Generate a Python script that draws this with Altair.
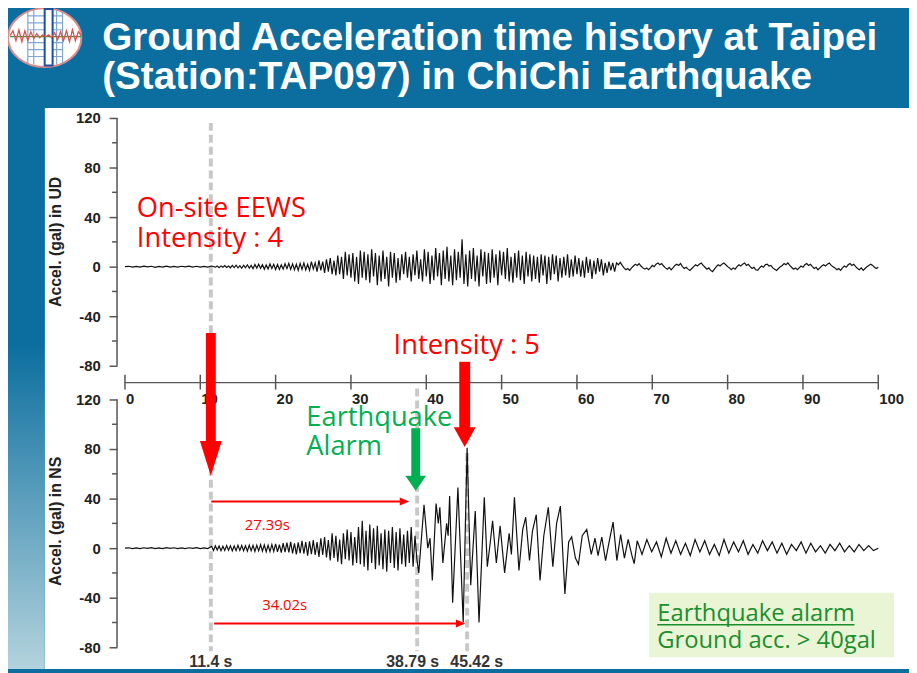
import altair as alt
import pandas as pd

# ===================== DATA =====================
# UD (vertical) record, gal, on piecewise-regular time grids (start s, step s)
UD_GRIDS = [(0.0, 0.5), (12.25, 0.25), (24.25, 0.25), (65.25, 0.25)]
UD_QUIET = [0, 0.3, -0.4, 0.2, -0.3, 0.4, -0.2, 0.3, -0.5, 0.2, -0.3, 0.4, -0.3,
            0.2, -0.4, 0.3, -0.2, 0.4, -0.3, 0.3, -0.4, 0.2, -0.3, 0.5, -0.4]
UD_ONSET = [0.5, -0.8, 0.6, -0.5, 0.9, -0.7, 0.5, -0.9,
            1, -0.8, 1.2, -1, 0.8, -1.3, 1.1, -0.9,
            1.5, -1.2, 1, -1.6, 1.8, -1.2, 2, -1.4,
            1.6, -2, 1.4, -1.8, 2.2, -1.5, 1.9, -2.3,
            1.8, -2.2, 1.5, -2, 2.4, -1.6, 2.6, -2.2,
            2.2, -2.6, 2, -3, 2.6, -2.3, 3, -2.7]
UD_STRONG = [2, -3, 4, -2, 3, -4, 5, -3,
             4, -5, 6, -4, 7, -6, 5, -7,
             9, -6, 8, -10, 12, -7, 10, -9,
             11, -12, 8, -14, 13, -9, 12, -11,
             10, -13, 14, -8, 11, -15, 9, -12,
             13, -10, 8, -16, 12, -9, 11, -13,
             7, -11, 10, -6, 12, -9, 8, -12,
             10, -7, 13, -10, 6, -12, 14, -8,
             12, -14, 9, -11, 15, -8, 11, -15,
             13, -10, 16, -12, 9, -15, 14, -11,
             12, -9, 22, -14, 10, -16, 13, -10,
             15, -12, 9, -16, 14, -8, 12, -14,
             11, -13, 14, -9, 10, -15, 13, -7,
             12, -10, 15, -12, 8, -13, 11, -9,
             13, -11, 9, -14, 12, -8, 10, -12,
             9, -10, 8, -13, 10, -7, 9, -14,
             8, -11, 10, -6, 9, -12, 7, -9,
             8, -7, 10, -9, 6, -8, 9, -6,
             7, -8, 5, -9, 8, -5, 6, -10,
             5, -6, 7, -4, 6, -7, 3, -5,
             4, -3, 3, -4]
UD_CODA = [3, 1.5, 3.5, 1, -1, -2.5, -1.5, -3,
           -1, 0.5, 2, 1, 2.5, 0.5, -1, -2,
           -1, -2.5, -1, 1, 0, 2, 3, 1.5,
           2.5, 0.5, -1, -2, -0.5, -2.5, -1, 1,
           2, 1, 2.5, 0, -1.5, -0.5, -2, -3,
           -1.5, 0, 1.5, 0.5, 2, 3, 1, -0.5,
           -2, -1, -3, -4, -2, 0, 1.5, 0.5,
           2, 3, 1.5, 0, -1, -2.5, -1, -2,
           0, 1.5, 0.5, 2, 3, 1, 2, 0,
           -1.5, -0.5, -2.5, -3, -1, 0.5, -0.5, 1.5,
           2, 0.5, 1, -1, -2, -3, -1.5, 0,
           1, 2.5, 1.5, 3, 1, -0.5, -2, -1,
           -2.5, -1, 0.5, -0.5, 1.5, 2.5, 1, 2,
           0, -1.5, -0.5, -2.5, -1, 0.5, 1.5, 0.5,
           2, 3, 1, 0, -1, -2.5, -1.5, -3,
           -1, 0.5, -0.5, 1.5, 2.5, 1, 2, 0,
           -1.5, -2.5, -1, -3, -1.5, 0, 1, 2,
           1, -0.5, -1.5, -0.5]

# NS record, gal
NS_GRIDS = [(0.0, 0.5), (11.5, 0.25), (68.0, 0.64)]
NS_QUIET = [0, 0.3, -0.3, 0.2, -0.4, 0.3, -0.2, 0.4, -0.3, 0.2, -0.3, 0.4,
            -0.2, 0.3, -0.4, 0.2, -0.3, 0.3, -0.2, 0.4, -0.3, 0.2, -0.3]
NS_ONSET = [1.5, -1.8, 2, -1.5, 1.8, -2, 1.6, -1.9,
            2.1, -1.7, 1.9, -2.2, 1.8, -2, 2.3, -1.8,
            2.2, -2.1, 1.9, -2.4, 2.5, -2, 2.2, -2.6,
            2.4, -2.2, 2.8, -2.5, 2.6, -3, 2.4, -2.8,
            3, -2.6, 3.5, -3, 2.8, -3.6, 4, -3.2,
            4.5, -3.5, 5, -4.2, 3.8, -5, 4.6, -4,
            6, -4.5, 5, -6, 5.5, -4.8, 6.5, -5.5,
            5, -7, 8, -5.5, 9, -7.5, 6.5, -10,
            12, -8, 10, -11, 7, -13, 12, -9,
            15, -10, 13, -14, 9, -12, 17, -13,
            22, -15, 14, -18, 19, -12, 16, -17,
            18, -14, 12, -17, 15, -19, 14, -12,
            17, -16, 13, -18, 16, -13, 11, -15,
            14, -12, 17, -15, 10, -9]
NS_PEAK_T = [39.0, 39.7, 40.2, 40.5, 40.8, 41.3, 41.6, 41.8, 42.2, 42.7,
             42.9, 43.1, 43.5, 44.2, 44.9, 45.42, 45.9, 46.5, 47.0, 47.7,
             48.1, 48.5, 48.8, 49.3, 49.8, 50.4, 51.0, 51.3, 51.7, 52.3,
             52.8, 53.2, 53.7, 54.1, 54.6, 55.1, 55.6, 56.2, 56.8, 57.3,
             57.8, 58.4, 58.9, 59.3, 59.8, 60.2, 60.7, 61.3, 61.9, 62.4,
             62.8, 63.3, 63.8, 64.3, 64.8, 65.3, 65.8, 66.3, 66.8, 67.3, 67.6]
NS_PEAK_V = [-20, 35, 0, 8, -26, 36, 20, 33, -12, 20,
             10, 42, -44, 49, -60, 81, -30, 30, -60, 41,
             -15, 5, 22, -12, 18, -20, 12, -5, 41, -18,
             15, 25, -10, 14, 27, -26, 10, 33, -15, 20,
             34, -37, 5, 9, -8, -13, 10, 15, -5, 8,
             -6, 9, -10, 6, 21, -10, 11, -8, 7, -6, -12.5]
NS_CODA = [6, -5, 7, -3, 5, -7, 8, -4, 6, -5,
           4, -6, 7, -3, 6, -5, 3, -6, 7, -4,
           5, -3, 6, -5, 3, -4, 6, -2, 5, -4,
           4, -5, 3, -2, 5, -4, 4, -3, 2, -4,
           3, -2, 4, -3, 2, -3, 3, -2, 2, -2, 0]

X_TICKS = [0, 10, 20, 30, 40, 50, 60, 70, 80, 90, 100]
Y_TICKS = [120, 80, 40, 0, -40, -80]
Y_MINOR = [100, 60, 20, -20, -60]
PANEL_TITLES = ["Accel. (gal) in UD", "Accel. (gal) in NS"]

EVENT_T = [11.4, 38.79, 45.42]
EVENT_LABELS = ["11.4 s", "38.79 s", "45.42 s"]
EVENT_LABEL_T = [11.4, 38.2, 46.7]
DURATION_LABELS = ["27.39s", "34.02s"]
TITLE_LINES = ["Ground Acceleration time history at Taipei",
               "(Station:TAP097) in ChiChi Earthquake"]

# ===================== LAYOUT / STYLE =====================
OFF = 227.2                 # the NS panel sits OFF gal below the UD panel
def U(v): return v          # UD panel value -> shared y
def L(v): return v - OFF    # NS panel value -> shared y

X0_PX, X_PER_S, Y0_PX, Y_PER_GAL = 126.0, 7.6, 267.0, 1.25
def px_t(px): return (px - X0_PX) / X_PER_S      # page px -> seconds
def px_u(py): return (Y0_PX - py) / Y_PER_GAL    # page px -> shared y

RED, GREEN, DKGREEN = "#FF0000", "#00B050", "#1A8F2E"
HEADER, STRIP_LIGHT, BOXFILL = "#0B6E9F", "#B3D3DC", "#EAF5D5"
AXIS, LABEL, DASH = "#555555", "#222222", "#C8C8C8"
BOLD = "Liberation Sans"
SANS = "Open Sans"

XS = alt.Scale(domain=[px_t(118), 100], nice=False, zero=False)
YS = alt.Scale(domain=[120 - 534 / Y_PER_GAL, 120], nice=False, zero=False)
YAXIS = alt.Axis(values=Y_TICKS + [L(v) for v in Y_TICKS],
                 labelExpr="datum.value > -100 ? '' + round(datum.value) : '' + round(datum.value + 227.2)",
                 domain=False, grid=False, title=None, tickSize=8, tickWidth=1.5, zindex=2,
                 tickColor=AXIS, labelFont=BOLD, labelFontWeight="bold",
                 labelFontSize=15, labelColor=LABEL, labelPadding=9)


def X(f): return alt.X(f, type="quantitative", scale=XS, axis=None)
def Y(f): return alt.Y(f, type="quantitative", scale=YS, axis=YAXIS)


def grid(start, step, vals):
    return [round(start + i * step, 3) for i in range(len(vals))]


# ---- traces ----
ud_t, ud_v = [], []
for (s, d), vals in zip(UD_GRIDS, [UD_QUIET, UD_ONSET, UD_STRONG, UD_CODA]):
    ud_t += grid(s, d, vals)
    ud_v += vals
ns_t = grid(*NS_GRIDS[0], NS_QUIET) + grid(*NS_GRIDS[1], NS_ONSET) + NS_PEAK_T + grid(*NS_GRIDS[2], NS_CODA)
ns_v = NS_QUIET + NS_ONSET + NS_PEAK_V + NS_CODA
traces = pd.DataFrame({
    "t": ud_t + ns_t,
    "y": [U(v) for v in ud_v] + [L(v) for v in ns_v],
    "panel": ["UD"] * len(ud_t) + ["NS"] * len(ns_t),
})

# ---- slide background ----
def rect_df(x1, x2, y1, y2):
    return pd.DataFrame({"x": [px_t(x1)], "x2": [px_t(x2)], "y": [px_u(y1)], "y2": [px_u(y2)]})

white = alt.Chart(rect_df(45, 917, 107, 673)).mark_rect(color="white").encode(
    x=X("x"), x2="x2", y=Y("y"), y2="y2")
strip = alt.Chart(rect_df(8, 45, 107, 673)).mark_rect(
    color=alt.LinearGradient(gradient="linear",
                             stops=[alt.GradientStop(offset=0, color=HEADER),
                                    alt.GradientStop(offset=0.42, color=HEADER),
                                    alt.GradientStop(offset=1, color=STRIP_LIGHT)],
                             x1=0, x2=0, y1=0, y2=1)).encode(x=X("x"), x2="x2", y=Y("y"), y2="y2")

# ---- logo (page px) ----
ellipse = alt.Chart(pd.DataFrame({"x": [px_t(45)], "y": [px_u(36)]})).mark_point(
    shape="M -1 0 A 1 0.8 0 1 1 1 0 A 1 0.8 0 1 1 -1 0 Z", size=74 * 74, filled=True,
    color="white", stroke="#E08A8A", strokeWidth=2, opacity=1).encode(x=X("x"), y=Y("y"))
seg_px = ([(28, 10, 28, 62), (34, 8, 34, 63), (57, 8, 57, 63), (63, 10, 63, 62)] +
          [(28, yy, 63, yy) for yy in (14, 21, 28, 41, 48, 55)])
logo_lines = alt.Chart(pd.DataFrame({
    "x": [px_t(a) for a, b, c, d in seg_px], "y": [px_u(b) for a, b, c, d in seg_px],
    "x2": [px_t(c) for a, b, c, d in seg_px], "y2": [px_u(d) for a, b, c, d in seg_px]})
).mark_rule(color="#7FA6D8", strokeWidth=1.2).encode(x=X("x"), y=Y("y"), x2="x2", y2="y2")
column = alt.Chart(rect_df(45, 53, 7, 64)).mark_rect(
    fill="white", stroke="#1F4E9A", strokeWidth=2).encode(x=X("x"), x2="x2", y=Y("y"), y2="y2")
wave_x = [10, 13, 16, 19, 22, 25, 28, 31, 34, 37, 40, 43, 46, 49, 52, 55, 58, 61, 64, 67, 70, 73, 76, 79, 82]
wave_y = [34, 29, 39, 28, 40, 29, 39, 30, 37, 32, 36, 33, 35, 33, 36, 31, 38, 30, 39, 29, 40, 28, 39, 30, 34]
green_line = alt.Chart(pd.DataFrame({"x": [px_t(10)], "x2": [px_t(82)], "y": [px_u(35)]})).mark_rule(
    color="#3A9A3A", strokeWidth=1.2).encode(x=X("x"), x2="x2", y=Y("y"))
wave = alt.Chart(pd.DataFrame({"x": [px_t(v) for v in wave_x], "y": [px_u(v) for v in wave_y],
                               "i": list(range(len(wave_x)))})).mark_line(
    color="#D9534F", strokeWidth=1.3).encode(x=X("x"), y=Y("y"), order="i:Q")

# ---- slide title ----
title = alt.Chart(pd.DataFrame({"x": [px_t(103)] * 2, "y": [px_u(48), px_u(88)], "text": TITLE_LINES})).mark_text(
    align="left", baseline="alphabetic", font=BOLD, fontWeight="bold", fontSize=39, color="white"
).encode(x=X("x"), y=Y("y"), text="text:N")

# ---- dashed event lines ----
dashes = alt.Chart(pd.DataFrame({"t": EVENT_T, "y": [U(116), L(128.8), L(76.8)],
                                 "y2": [L(-83.2)] * 3})).mark_rule(
    color=DASH, strokeWidth=4, strokeDash=[8, 4]).encode(x=X("t"), y=Y("y"), y2="y2")

lines = alt.Chart(traces).mark_line(color="#111111", strokeWidth=1.2).encode(
    x=X("t"), y=Y("y"), detail="panel:N")

# ---- axes drawn as marks ----
x_left = px_t(118)
ydom = alt.Chart(pd.DataFrame({"x": [x_left] * 2, "y": [U(120), L(120)], "y2": [U(-80), L(-80)]})).mark_rule(
    color=AXIS, strokeWidth=1.5).encode(x=X("x"), y=Y("y"), y2="y2")
minor_y = [U(v) for v in Y_MINOR] + [L(v) for v in Y_MINOR]
yminor = alt.Chart(pd.DataFrame({"x": [x_left] * len(minor_y), "x2": [px_t(113)] * len(minor_y),
                                 "y": minor_y})).mark_rule(color=AXIS, strokeWidth=1.5).encode(
    x=X("x"), x2="x2", y=Y("y"))
xline = alt.Chart(pd.DataFrame({"x": [0], "x2": [100], "y": [px_u(384)]})).mark_rule(
    color=AXIS, strokeWidth=1.5).encode(x=X("x"), x2="x2", y=Y("y"))
xticks = alt.Chart(pd.DataFrame({"t": X_TICKS, "y": [px_u(376)] * len(X_TICKS),
                                 "y2": [px_u(391)] * len(X_TICKS)})).mark_rule(
    color=AXIS, strokeWidth=1.5).encode(x=X("t"), y=Y("y"), y2="y2")
xlabels = alt.Chart(pd.DataFrame({"t": X_TICKS, "y": [px_u(401)] * len(X_TICKS),
                                  "text": [str(v) for v in X_TICKS]})).mark_text(
    align="left", baseline="middle", dx=1, font=BOLD, fontWeight="bold", fontSize=15, color=LABEL
).encode(x=X("t"), y=Y("y"), text="text:N")
ytitles = alt.Chart(pd.DataFrame({"x": [px_t(56)] * 2, "y": [U(20), L(21.6)], "text": PANEL_TITLES})).mark_text(
    angle=270, align="center", baseline="middle", font=BOLD, fontWeight="bold", fontSize=16, color=LABEL
).encode(x=X("x"), y=Y("y"), text="text:N")

# ---- thin duration arrows ----
thin = pd.DataFrame({"t": [11.45, 11.84], "t2": [37.1, 44.55], "y": [L(37.6), L(-60.8)]})
thin_lines = alt.Chart(thin).mark_rule(color=RED, strokeWidth=2).encode(x=X("t"), x2="t2", y=Y("y"))
thin_heads = alt.Chart(thin).mark_point(
    shape="M -1 -0.85 L 1 0 L -1 0.85 Z", size=90, filled=True, color=RED, opacity=1
).encode(x=X("t2"), y=Y("y"))
dur_labels = alt.Chart(pd.DataFrame({"t": [18.9, 21.2], "y": [L(18.4), L(-45.6)],
                                     "text": DURATION_LABELS})).mark_text(
    align="center", baseline="middle", font=SANS, fontSize=15, color=RED
).encode(x=X("t"), y=Y("y"), text="text:N")

# ---- big arrows ----
big = [dict(t=11.4, top=U(-53.6), head=L(86.4), tip=L(58.4), color=RED, sw=10, hw=22),
       dict(t=45.1, top=U(-76.8), head=L(97.6), tip=L(81.6), color=RED, sw=11, hw=22),
       dict(t=38.6, top=L(96.8), head=L(58.4), tip=L(46.4), color=GREEN, sw=9, hw=21)]
rows = []
for a in big:
    hh = (a["head"] - a["tip"]) * Y_PER_GAL
    s = max(hh, a["hw"])
    rows.append({"t": a["t"], "top": a["top"], "shaft_end": a["head"] - 1.0,
                 "hc": (a["head"] + a["tip"]) / 2, "color": a["color"], "sw": a["sw"],
                 "path": "M %.3f %.3f L %.3f %.3f L 0 %.3f Z" % (-a["hw"] / s, -hh / s, a["hw"] / s, -hh / s, hh / s),
                 "size": s * s})
bigdf = pd.DataFrame(rows)
shafts = alt.Chart(bigdf).mark_rule(strokeCap="butt").encode(
    x=X("t"), y=Y("top"), y2="shaft_end",
    color=alt.Color("color:N", scale=None), strokeWidth=alt.StrokeWidth("sw:Q", scale=None))
heads = alt.Chart(bigdf).mark_point(filled=True, opacity=1, strokeWidth=0).encode(
    x=X("t"), y=Y("hc"), shape=alt.Shape("path:N", scale=None),
    size=alt.Size("size:Q", scale=None), color=alt.Color("color:N", scale=None))

# ---- callout texts ----
callouts = alt.Chart(pd.DataFrame({
    "t": [1.58, 1.58, 35.66, 24.08, 24.08],
    "y": [U(40), U(16), U(-70.4), L(98.4), L(75.2)],
    "text": ["On-site EEWS", "Intensity : 4", "Intensity : 5", "Earthquake", "Alarm"],
    "color": [RED, RED, RED, GREEN, GREEN]})).mark_text(
    align="left", baseline="alphabetic", font=SANS, fontSize=27.5
).encode(x=X("t"), y=Y("y"), text="text:N", color=alt.Color("color:N", scale=None))

box = alt.Chart(pd.DataFrame({"x": [69.6], "x2": [102.1], "y": [L(-36)], "y2": [L(-88)]})).mark_rect(
    color=BOXFILL).encode(x=X("x"), x2="x2", y=Y("y"), y2="y2")
box_text = alt.Chart(pd.DataFrame({"t": [70.66, 70.66], "y": [L(-58.6), L(-80.5)],
                                   "text": ["Earthquake alarm", "Ground acc. > 40gal"]})).mark_text(
    align="left", baseline="alphabetic", font=SANS, fontSize=24, color=DKGREEN
).encode(x=X("t"), y=Y("y"), text="text:N")
underline = alt.Chart(pd.DataFrame({"x": [70.66], "x2": [96.84], "y": [L(-61.9)]})).mark_rule(
    color=DKGREEN, strokeWidth=1.5).encode(x=X("x"), x2="x2", y=Y("y"))

event_labels = alt.Chart(pd.DataFrame({"t": EVENT_LABEL_T, "y": [L(-92)] * 3,
                                       "text": EVENT_LABELS})).mark_text(
    align="center", baseline="middle", font=BOLD, fontWeight="bold", fontSize=16, color="#333333"
).encode(x=X("t"), y=Y("y"), text="text:N")

chart = alt.layer(
    white, strip, ellipse, logo_lines, column, green_line, wave, title,
    dashes, lines, ydom, yminor, xline, xticks, xlabels, ytitles,
    thin_lines, thin_heads, dur_labels, box, box_text, underline, event_labels,
    shafts, heads, callouts,
).properties(
    width=768, height=534,
    padding={"left": 110, "top": 108, "right": 31, "bottom": 23},
    autosize=alt.AutoSizeParams(type="none"),
    background=HEADER,
).configure_view(stroke="transparent")

chart.save("out.html", embed_options={"renderer": "svg", "actions": False})
